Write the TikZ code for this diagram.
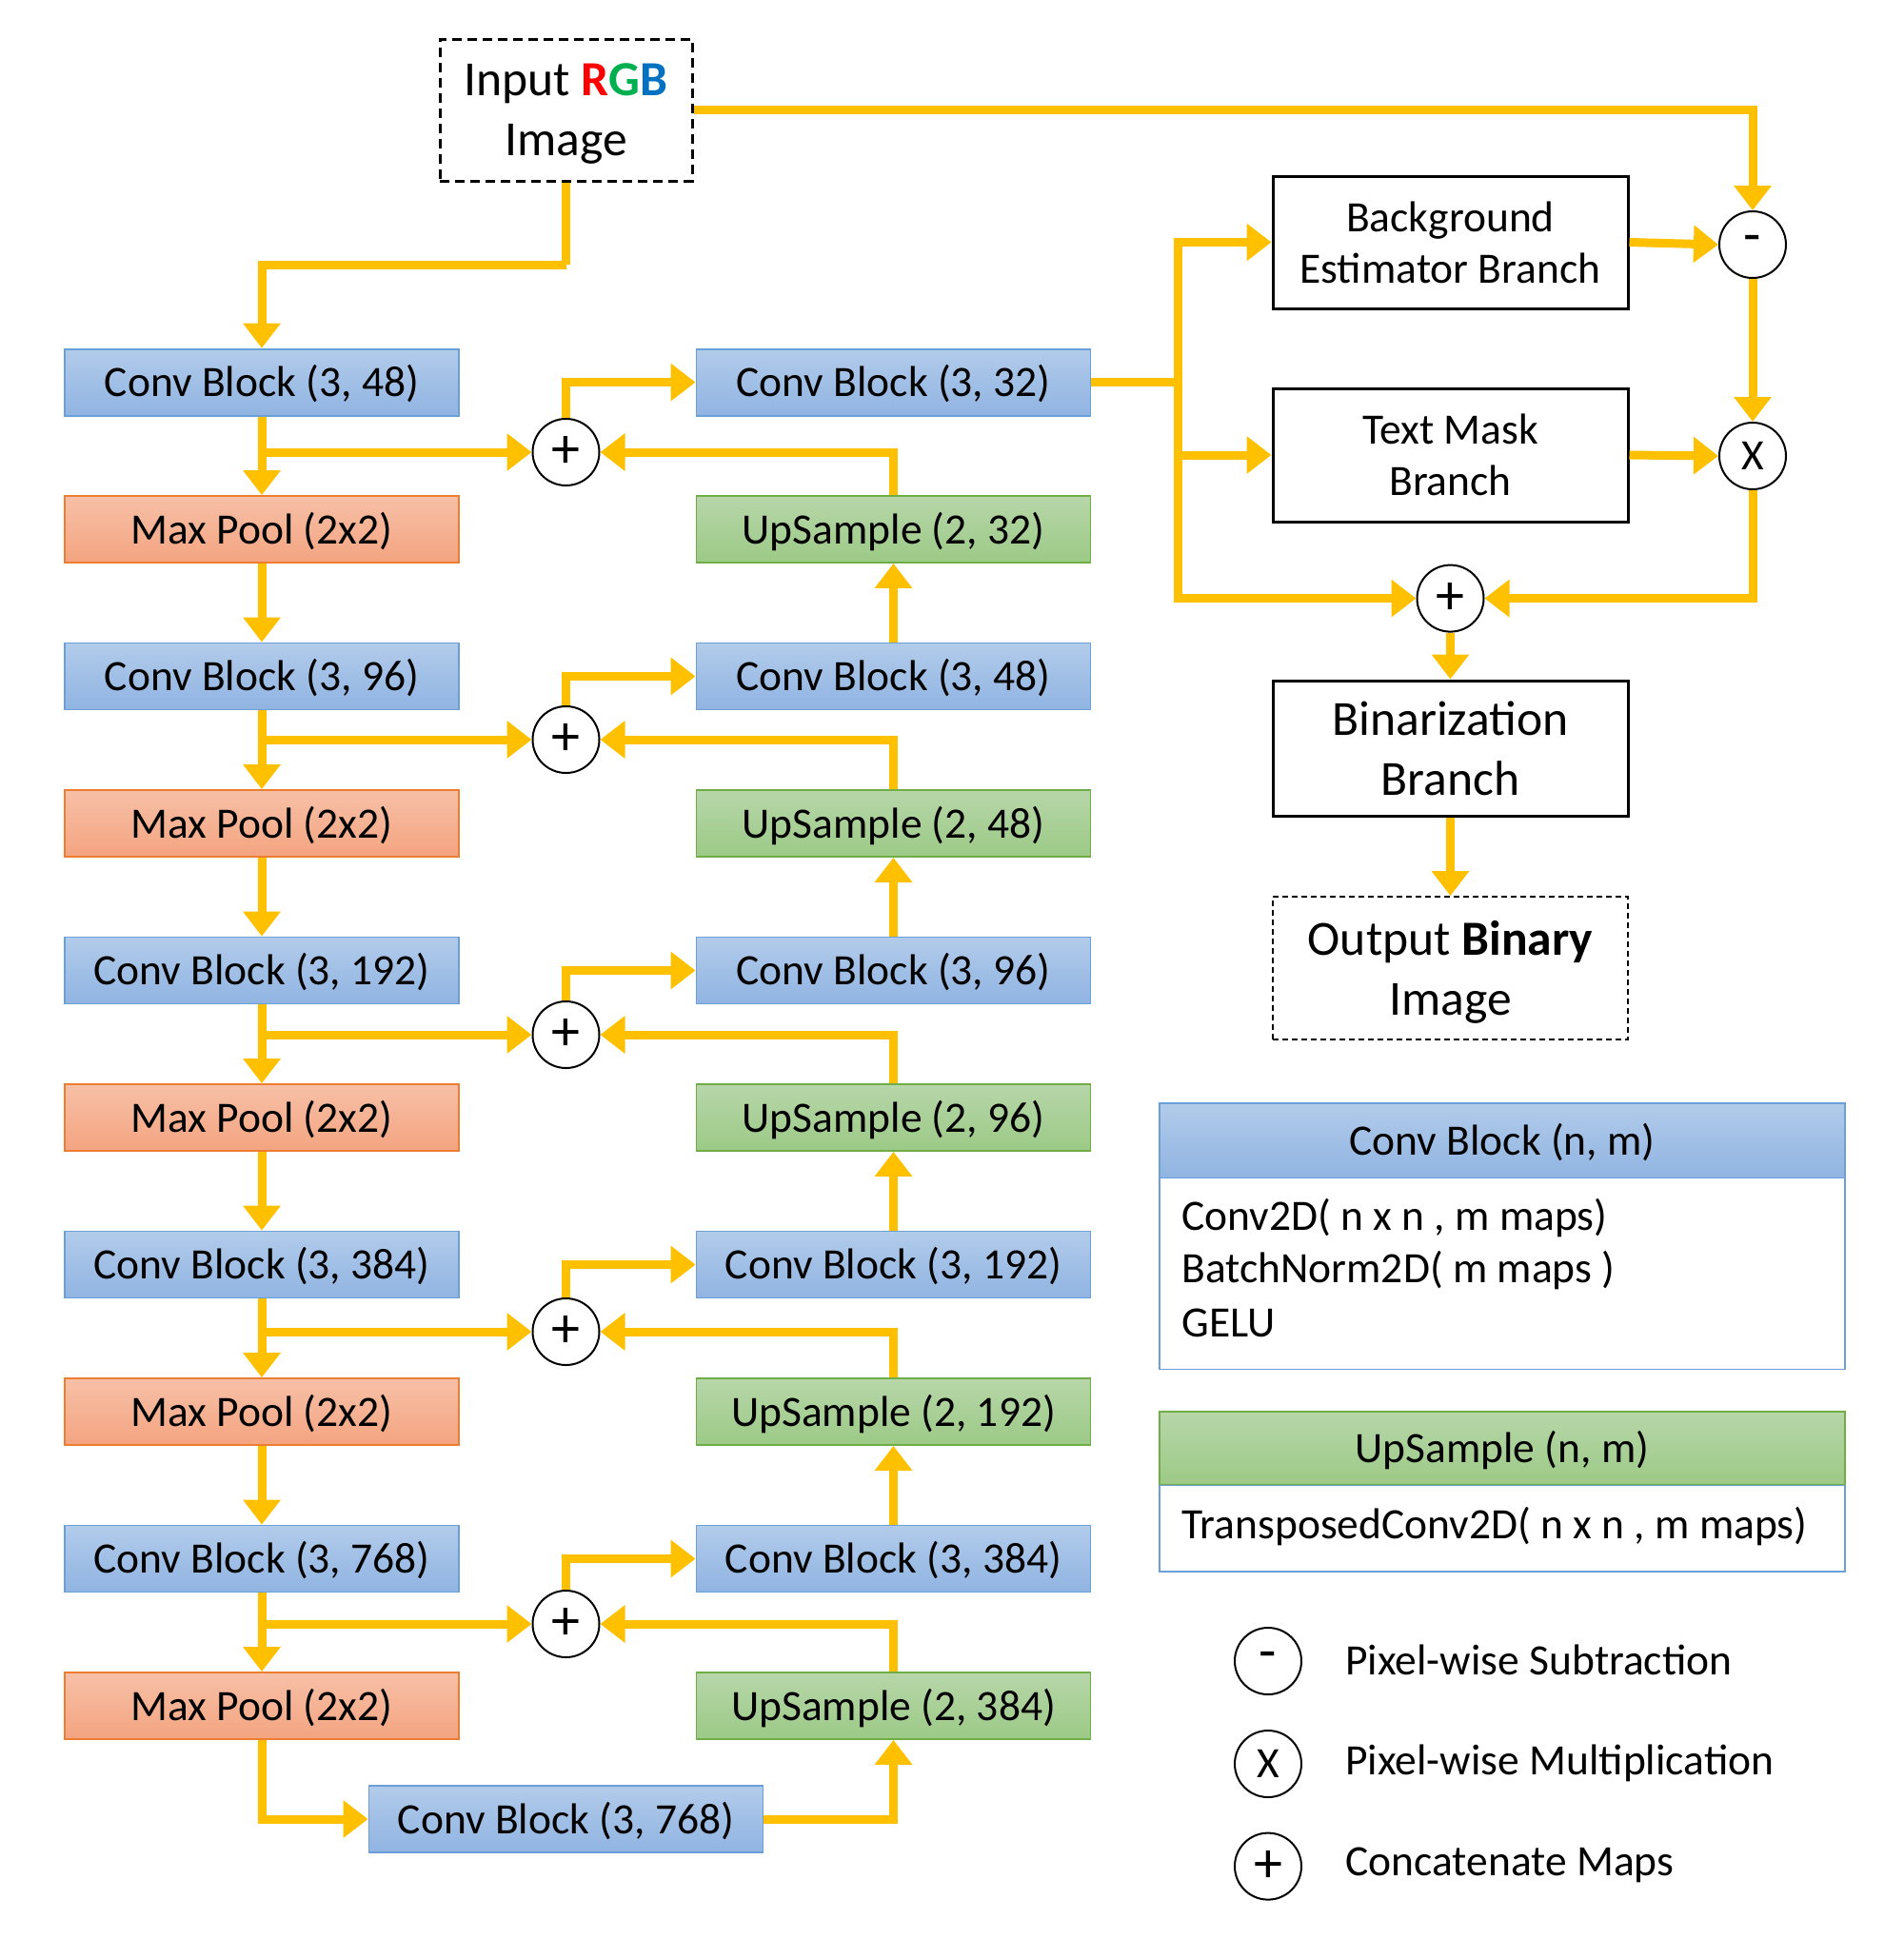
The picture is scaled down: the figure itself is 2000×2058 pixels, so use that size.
\documentclass[tikz,border=0pt]{standalone}
\usepackage{fontspec}
\setmainfont{Carlito}
\usetikzlibrary{arrows.meta}
\definecolor{gold}{HTML}{FFC000}
\definecolor{convT}{HTML}{B2CBEA}
\definecolor{convBot}{HTML}{90B4E2}
\definecolor{convB}{HTML}{6A9FD8}
\definecolor{poolT}{HTML}{F7C0A7}
\definecolor{poolBot}{HTML}{F4A480}
\definecolor{poolB}{HTML}{ED7D31}
\definecolor{upT}{HTML}{B7D6A9}
\definecolor{upBot}{HTML}{9CCA86}
\definecolor{upB}{HTML}{70AD47}
\definecolor{rR}{HTML}{FF0000}
\definecolor{rG}{HTML}{00B050}
\definecolor{rB}{HTML}{0070C0}
\newcommand{\fs}{\fontsize{22.75}{27}\selectfont}
\newcommand{\fbig}{\fontsize{25.8}{31.5}\selectfont}
\newcommand{\fop}{\fontsize{30}{30}\selectfont}
\begin{document}
\begin{tikzpicture}[x=0.5pt,y=-0.5pt,
  arr/.style={draw=gold, line width=4.5pt, -{Triangle[length=13pt,width=19pt]}},
  yline/.style={draw=gold, line width=4.5pt},
  blk/.style={minimum width=207pt, minimum height=35pt, inner sep=0pt, line width=0.9pt, font=\fs, text depth=1.5pt},
  conv/.style={blk, draw=convB, top color=convT, bottom color=convBot},
  pool/.style={blk, draw=poolB, top color=poolT, bottom color=poolBot},
  ups/.style={blk, draw=upB, top color=upT, bottom color=upBot},
  op/.style={circle, draw=black, line width=1pt, fill=white, minimum size=35pt, inner sep=0pt, font=\fop},
  branch/.style={draw=black, line width=1.5pt, minimum width=186.5pt, inner sep=0pt, align=center},
  lgtext/.style={anchor=west, inner sep=0pt, font=\fs}
]
\useasboundingbox (0,0) rectangle (2000,2058);

% input
\node[draw=black, dashed, dash pattern=on 5pt off 3pt, line width=1.5pt, minimum width=132.5pt, minimum height=74.5pt, inner sep=0pt, align=center, font=\fbig, text depth=0pt] (inp) at (594.5,115.5) {Input \textbf{\textcolor{rR}{R}\textcolor{rG}{G}\textcolor{rB}{B}}\\Image};

% left column
\node[conv] (L1) at (275,401.6) {Conv Block (3, 48)};
\node[pool] (P1) at (275,556) {Max Pool (2x2)};
\node[conv] (L2) at (275,710.5) {Conv Block (3, 96)};
\node[pool] (P2) at (275,865) {Max Pool (2x2)};
\node[conv] (L3) at (275,1019.5) {Conv Block (3, 192)};
\node[pool] (P3) at (275,1174) {Max Pool (2x2)};
\node[conv] (L4) at (275,1328.5) {Conv Block (3, 384)};
\node[pool] (P4) at (275,1483) {Max Pool (2x2)};
\node[conv] (L5) at (275,1637.5) {Conv Block (3, 768)};
\node[pool] (P5) at (275,1792) {Max Pool (2x2)};
\node[conv] (B) at (594.5,1911) {Conv Block (3, 768)};

% right column
\node[conv] (R1) at (938.5,401.6) {Conv Block (3, 32)};
\node[ups] (U1) at (938.5,556) {UpSample (2, 32)};
\node[conv] (R2) at (938.5,710.5) {Conv Block (3, 48)};
\node[ups] (U2) at (938.5,865) {UpSample (2, 48)};
\node[conv] (R3) at (938.5,1019.5) {Conv Block (3, 96)};
\node[ups] (U3) at (938.5,1174) {UpSample (2, 96)};
\node[conv] (R4) at (938.5,1328.5) {Conv Block (3, 192)};
\node[ups] (U4) at (938.5,1483) {UpSample (2, 192)};
\node[conv] (R5) at (938.5,1637.5) {Conv Block (3, 384)};
\node[ups] (U5) at (938.5,1792) {UpSample (2, 384)};

% concatenation circles
\node[op] (c1) at (594.5,475) {+};
\node[op] (c2) at (594.5,777) {+};
\node[op] (c3) at (594.5,1087) {+};
\node[op] (c4) at (594.5,1399) {+};
\node[op] (c5) at (594.5,1706) {+};

% right side
\node[branch, minimum height=69.5pt, font=\fs] (bg) at (1523.5,254.5) {Background\\Estimator Branch};
\node[branch, minimum height=70pt, font=\fs] (tm) at (1523.5,478) {Text Mask\\Branch};
\node[op] (minus) at (1841,257) {-};
\node[op, font=\fs] (times) at (1841,479) {X};
\node[op] (cr) at (1523.5,628.6) {+};
\node[branch, minimum height=71pt, font=\fbig, text depth=0pt] (bin) at (1523.5,786) {Binarization\\Branch};
\node[draw=black, dashed, dash pattern=on 3pt off 2pt, line width=0.9pt, minimum width=186.5pt, minimum height=75pt, inner sep=0pt, align=center, font=\fbig, text depth=0pt] (out) at (1523.5,1017) {Output \textbf{Binary}\\Image};

% connectors: input
\coordinate (t1) at (594.5,278);
\draw[yline] (inp.south) -- (t1);
\draw[arr] (t1) -| (L1.north);
\draw[arr] (inp.east) -| (minus.north);

% encoder
\draw[arr] (L1.south) -- (P1.north);
\draw[arr] (P1.south) -- (L2.north);
\draw[arr] (L2.south) -- (P2.north);
\draw[arr] (P2.south) -- (L3.north);
\draw[arr] (L3.south) -- (P3.north);
\draw[arr] (P3.south) -- (L4.north);
\draw[arr] (L4.south) -- (P4.north);
\draw[arr] (P4.south) -- (L5.north);
\draw[arr] (L5.south) -- (P5.north);
\draw[arr] (P5.south) |- (B.west);
\draw[arr] (B.east) -| (U5.south);

% skips
\draw[arr] (L1.south |- c1) -- (c1.west);
\draw[arr] (L2.south |- c2) -- (c2.west);
\draw[arr] (L3.south |- c3) -- (c3.west);
\draw[arr] (L4.south |- c4) -- (c4.west);
\draw[arr] (L5.south |- c5) -- (c5.west);

% decoder
\draw[arr] (c1.north) |- (R1.west);
\draw[arr] (c2.north) |- (R2.west);
\draw[arr] (c3.north) |- (R3.west);
\draw[arr] (c4.north) |- (R4.west);
\draw[arr] (c5.north) |- (R5.west);
\draw[arr] (U1.north) |- (c1.east);
\draw[arr] (U2.north) |- (c2.east);
\draw[arr] (U3.north) |- (c3.east);
\draw[arr] (U4.north) |- (c4.east);
\draw[arr] (U5.north) |- (c5.east);
\draw[arr] (R2.north) -- (U1.south);
\draw[arr] (R3.north) -- (U2.south);
\draw[arr] (R4.north) -- (U3.south);
\draw[arr] (R5.north) -- (U4.south);

% branches
\coordinate (bus) at (1237.5,401.6);
\draw[yline] (R1.east) -- (bus);
\draw[arr] (bus) |- (bg.west);
\draw[arr] (bus) |- (tm.west);
\draw[arr] (bus) |- (cr.west);
\draw[arr] (bg.east) -- (minus.west);
\draw[arr] (minus.south) -- (times.north);
\draw[arr] (tm.east) -- (times.west);
\draw[arr] (times.south) |- (cr.east);
\draw[arr] (cr.south) -- (bin.north);
\draw[arr] (bin.south) -- (out.north);

% legend: conv block
\node[draw=convB, line width=0.9pt, top color=convT, bottom color=convBot, minimum width=360pt, minimum height=39.3pt, inner sep=0pt, font=\fs, text depth=1.5pt] (lgc) at (1578,1198.2) {Conv Block (n, m)};
\node[draw=convB, line width=0.7pt, fill=white, minimum width=360pt, minimum height=100.4pt, inner sep=0pt] (lgcb) at (1578,1337.9) {};
\node[lgtext] (lc1) at (1241,1280) {Conv2D( n x n , m maps)};
\node[lgtext] (lc2) at (1241,1335) {BatchNorm2D( m maps )};
\node[lgtext] (lc3) at (1241,1390) {GELU};

% legend: upsample
\node[draw=upB, line width=0.9pt, top color=upT, bottom color=upBot, minimum width=360pt, minimum height=38.7pt, inner sep=0pt, font=\fs, text depth=1.5pt] (lgu) at (1578,1521.6) {UpSample (n, m)};
\node[draw=convB, line width=0.7pt, fill=white, minimum width=360pt, minimum height=45.3pt, inner sep=0pt] (lgub) at (1578,1605.6) {};
\node[lgtext] (lu1) at (1241,1604) {TransposedConv2D( n x n , m maps)};

% legend: operators
\node[op] (lm) at (1332,1745) {-};
\node[op, font=\fs] (lx) at (1332,1853) {X};
\node[op] (lp) at (1332,1960.6) {+};
\node[lgtext] (lmt) at (1413,1744) {Pixel-wise Subtraction};
\node[lgtext] (lxt) at (1413,1852) {Pixel-wise Multiplication};
\node[lgtext] (lpt) at (1413,1959) {Concatenate Maps};
\end{tikzpicture}
\end{document}
